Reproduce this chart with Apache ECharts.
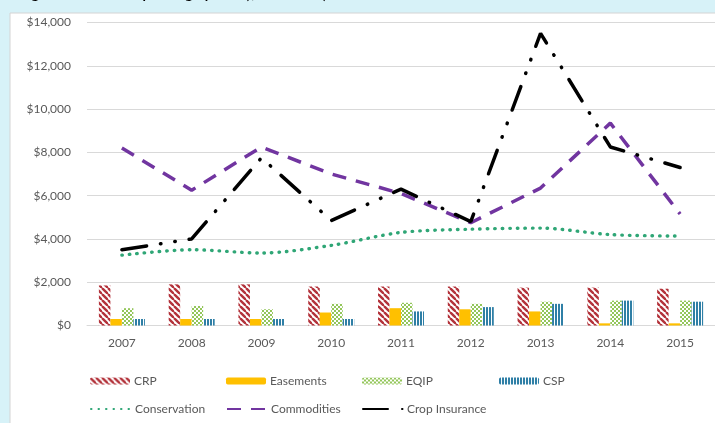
<!DOCTYPE html>
<html>
<head>
<meta charset="utf-8">
<script src="https://cdn.jsdelivr.net/npm/echarts@6/dist/echarts.min.js"></script>
<style>
html,body{margin:0;padding:0;background:#d7f2f8;}
#chart{width:715px;height:423px;}
</style>
</head>
<body>
<div id="chart"></div>
<script>
// ---- data ----
const years = ['2007','2008','2009','2010','2011','2012','2013','2014','2015'];
const crp          = [1850, 1900, 1900, 1800, 1800, 1800, 1750, 1750, 1700];
const easements    = [300, 300, 300, 600, 800, 750, 650, 100, 100];
const eqip         = [800, 900, 750, 1000, 1050, 1000, 1100, 1150, 1150];
const csp          = [300, 300, 300, 300, 650, 850, 1000, 1150, 1100];
const conservation = [3250, 3500, 3350, 3700, 4300, 4450, 4500, 4200, 4130];
const commodities  = [8200, 6250, 8250, 7000, 6100, 4750, 6350, 9350, 5150];
const cropInsurance= [3500, 4000, 7750, 4850, 6300, 4800, 13500, 8250, 7300];
const yTicks = [0, 2000, 4000, 6000, 8000, 10000, 12000, 14000];
const titleText = 'Figure 1. Farm Bill Spending by Year ($ in millions)';

// ---- patterns ----
function stripePattern() {
  const s = 6, c = document.createElement('canvas');
  c.width = s; c.height = s;
  const g = c.getContext('2d');
  g.fillStyle = '#ffffff'; g.fillRect(0, 0, s, s);
  g.strokeStyle = '#b3323a'; g.lineWidth = 2.4;
  for (const o of [-s, 0, s]) {
    g.beginPath(); g.moveTo(o, 0); g.lineTo(o + s, s); g.stroke();
  }
  return { image: c, repeat: 'repeat' };
}
function checkerPattern() {
  const c = document.createElement('canvas');
  c.width = 4; c.height = 4;
  const g = c.getContext('2d');
  g.fillStyle = '#ffffff'; g.fillRect(0, 0, 4, 4);
  g.fillStyle = '#93c65a';
  g.fillRect(0, 0, 2, 2); g.fillRect(2, 2, 2, 2);
  return { image: c, repeat: 'repeat' };
}
function vstripePattern() {
  const c = document.createElement('canvas');
  c.width = 3; c.height = 3;
  const g = c.getContext('2d');
  g.fillStyle = '#ffffff'; g.fillRect(0, 0, 3, 3);
  g.fillStyle = '#2f7fa6'; g.fillRect(0, 0, 2, 3);
  return { image: c, repeat: 'repeat' };
}

const FONT = 'Lato';
const TXT = '#595959';
const chart = echarts.init(document.getElementById('chart'));

function legendAt(name, left, top, isLine) {
  const l = {
    data: [name], left: left, top: top, itemWidth: 40, itemHeight: 7, itemGap: 4,
    textStyle: { fontFamily: FONT, fontSize: 12, color: TXT, padding: [0, 0, 0, -1] },
    selectedMode: false
  };
  if (isLine) l.itemStyle = { opacity: 0, borderWidth: 0 };
  return l;
}

const barBase = { type: 'bar', barWidth: 11.5, barGap: '0%', barCategoryGap: '34%' };

chart.setOption({
  animation: false,
  backgroundColor: 'transparent',
  graphic: [
    { type: 'rect', z: -10, shape: { x: 10, y: 13, width: 710, height: 415 },
      style: { fill: '#ffffff', stroke: '#d4d4d4', lineWidth: 1 } },
    { type: 'text', z: -5, x: 20, y: 1.5,
      style: { text: titleText, font: 'bold 14px Lato', fill: '#000000', verticalAlign: 'bottom' } }
  ],
  grid: { left: 87, right: -2, top: 22.5, bottom: 97.5, containLabel: false },
  xAxis: {
    type: 'category', data: years,
    axisLine: { lineStyle: { color: '#d9d9d9' } },
    axisTick: { show: false },
    axisLabel: { fontFamily: FONT, fontSize: 12, color: TXT, margin: 12 }
  },
  yAxis: {
    type: 'value', min: yTicks[0], max: yTicks[yTicks.length - 1], interval: yTicks[1] - yTicks[0],
    axisLine: { show: false }, axisTick: { show: false },
    splitLine: { lineStyle: { color: '#d9d9d9' } },
    axisLabel: { fontFamily: FONT, fontSize: 12, color: TXT, margin: 16,
      formatter: v => '$' + v.toLocaleString('en-US') }
  },
  legend: [
    legendAt('CRP', 85, 370),
    legendAt('Easements', 221, 370),
    legendAt('EQIP', 357, 370),
    legendAt('CSP', 494, 370),
    legendAt('Conservation', 85, 398, true),
    legendAt('Commodities', 221, 398, true),
    legendAt('Crop Insurance', 357, 398, true)
  ],
  series: [
    Object.assign({ name: 'CRP', data: crp, itemStyle: { color: stripePattern() } }, barBase),
    Object.assign({ name: 'Easements', data: easements, itemStyle: { color: '#ffc000' } }, barBase),
    Object.assign({ name: 'EQIP', data: eqip, itemStyle: { color: checkerPattern() } }, barBase),
    Object.assign({ name: 'CSP', data: csp, itemStyle: { color: vstripePattern() } }, barBase),
    { name: 'Conservation', type: 'line', data: conservation, smooth: 0.3, symbol: 'none',
      itemStyle: { color: '#2fa676' },
      lineStyle: { color: '#2fa676', width: 3.4, type: [0.5, 7], cap: 'round' } },
    { name: 'Commodities', type: 'line', data: commodities, symbol: 'none',
      itemStyle: { color: '#7135a0' },
      lineStyle: { color: '#7135a0', width: 3.5, type: [14, 10] } },
    { name: 'Crop Insurance', type: 'line', data: cropInsurance, symbol: 'none',
      itemStyle: { color: '#000000' },
      lineStyle: { color: '#000000', width: 3.5, type: [25, 14, 0.5, 14, 0.5, 14], cap: 'round' } }
  ]
});
</script>
</body>
</html>
